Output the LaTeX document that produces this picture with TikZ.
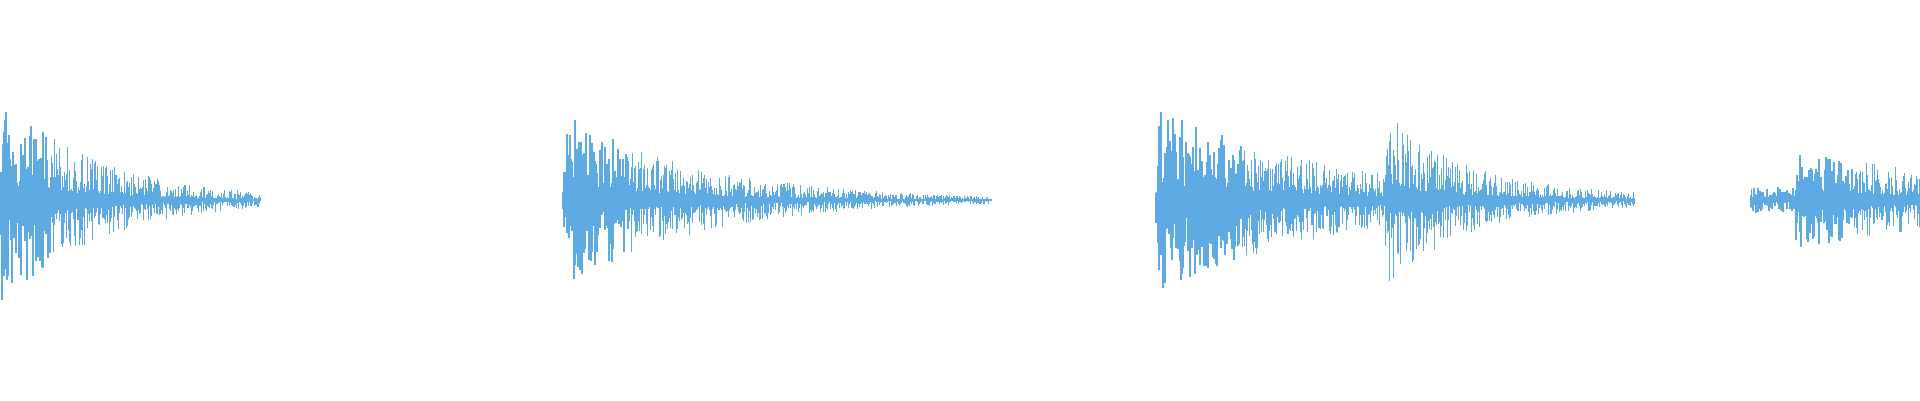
\documentclass[tikz,border=0pt]{standalone}
\definecolor{waveblue}{RGB}{93,171,226}
\tikzset{wave/.style={draw=waveblue, line width=0.3pt}}
% one burst: start x, number of strokes, envelope in \t
\newcommand{\waveburst}[3]{%
  \foreach \i in {0,...,#2} {
    \pgfmathsetmacro\t{\i*0.01}
    \pgfmathsetmacro\env{#3}
    \pgfmathsetmacro\up{\env*(0.15+0.85*rnd^1.4)}
    \pgfmathsetmacro\dn{\env*(0.15+0.85*rnd^1.4)}
    \draw[wave] (#1+\t,2-\dn) -- (#1+\t,2+\up);
  }
  \draw[wave] (#1,2) -- ++(#2*0.01,0);
}
\begin{document}
\begin{tikzpicture}
  \useasboundingbox (0,0) rectangle (19.2,4);
  \pgfmathsetseed{42}

  \waveburst{0.01}{260}{1.05*exp(-\t/1.0)}
  \waveburst{5.62}{430}{min(\t/0.06,1)*0.9*exp(-\t/1.35)}
  \waveburst{11.55}{480}{min(\t/0.04,1)*0.95*exp(-\t/1.8)+(\t>2.3)*0.65*exp(-(\t-2.3)/0.65)}
  \waveburst{17.5}{170}{\t<0.45 ? 0.13 : 0.5*exp(-(\t-0.45)/2.5)}
\end{tikzpicture}
\end{document}
